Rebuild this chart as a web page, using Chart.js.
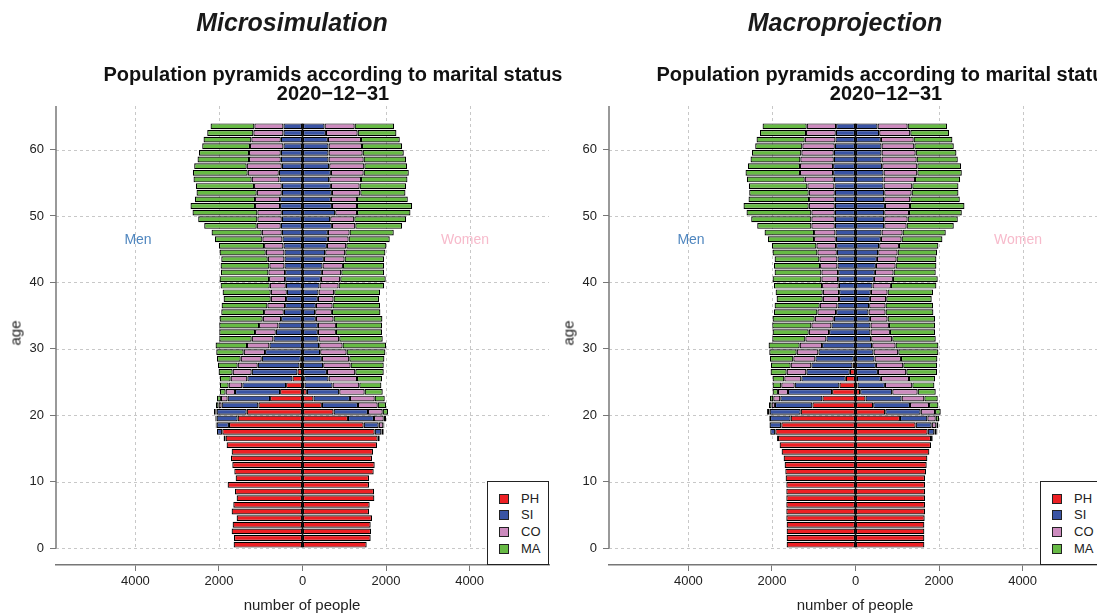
<!DOCTYPE html>
<html lang="en">
<head>
<meta charset="UTF-8">
<title>Population pyramids</title>
<script src="https://cdn.jsdelivr.net/npm/chart.js"></script>
<style>
    body { margin: 0; background: #fff; font-family: "Liberation Sans", Arial, sans-serif; }
    #wrap { position: relative; width: 1097px; height: 615px; overflow: hidden; }
    canvas { position: absolute; top: 0; }
    .txt { position: absolute; white-space: nowrap; transform: translate(-50%, -50%); color: #222; }
    .h1 { font-size: 25px; font-weight: bold; font-style: italic; color: #1a1a1a; }
    .sub { font-size: 20px; font-weight: bold; color: #111; }
    .axt { font-size: 15px; }
    .legend { position: absolute; width: 62px; height: 84px; border: 1px solid #222; background: #fff; box-sizing: border-box; }
    .legend .row { position: absolute; left: 11px; height: 14px; font-size: 13px; color: #222; }
    .legend .sw { position: absolute; left: 0; top: 2px; width: 10px; height: 10px; border: 1px solid #222; box-sizing: border-box; }
    .legend .lb { position: absolute; left: 22px; top: -1px; }
</style>
</head>
<body>
<div id="wrap">
    <canvas id="micro" width="552" height="615" style="left:0"></canvas>
    <canvas id="macro" width="552" height="615" style="left:553px"></canvas>
</div>
<script>
// ages 0..63, one bar each
const ages = Array.from({length: 64}, (_, i) => i);
const statuses = ['PH', 'SI', 'CO', 'MA'];
const statusColors = ['#ED2024', '#3A54A4', '#CC8BBE', '#67BA45'];
const yTicks = [0, 10, 20, 30, 40, 50, 60];
const xTicks = [-4000, -2000, 0, 2000, 4000];

// Microsimulation - men
const microMenPH = [1648,1640,1696,1672,1576,1696,1656,1576,1616,1792,
    1600,1632,1680,1712,1696,1816,1840,1920,1760,1552,
    1336,1056,776,536,392,240,120,72,40,0,
    0,0,0,0,0,0,0,0,0,0, 0,0,0,0,0,0,0,0,0,0, 0,0,0,0,0,0,0,0,0,0, 0,0,0,0];
const microMenSI = [0,0,0,0,0,0,0,0,0,0,
    0,0,0,0,0,0,48,128,296,504,
    720,880,1016,1080,1048,1080,1096,1000,936,896,
    792,696,640,576,512,448,416,392,376,400,
    416,416,432,432,432,456,480,496,520,496,
    496,536,536,496,496,552,568,496,520,520,
    456,520,456,456];
const microMenCO = [0,0,0,0,0,0,0,0,0,0,
    0,0,0,0,0,0,0,0,16,16,
    32,72,160,224,328,400,456,480,504,512,
    536,520,496,464,440,472,424,368,384,384,
    384,400,360,400,448,464,480,480,576,584,
    584,600,600,600,664,664,744,840,760,760,
    800,704,720,696];
const microMenMA = [0,0,0,0,0,0,0,0,0,0,
    0,0,0,0,0,0,0,0,8,16,
    32,64,96,136,208,256,336,472,568,656,
    752,776,856,952,1032,1024,1096,1128,1152,1176,
    1184,1136,1168,1112,1104,1080,1136,1200,1256,1416,
    1552,1544,1440,1440,1392,1392,1312,1256,1232,1200,
    1144,1144,1104,1048];
// Microsimulation - women
const microWomenPH = [1536,1632,1640,1632,1664,1592,1608,1720,1712,1592,
    1592,1704,1728,1664,1688,1784,1800,1728,1464,1088,
    744,464,264,104,48,40,0,0,0,0,
    0,0,0,0,0,0,0,0,0,0, 0,0,0,0,0,0,0,0,0,0, 0,0,0,0,0,0,0,0,0,0, 0,0,0,0];
const microWomenSI = [0,0,0,0,0,0,0,0,0,0,
    0,0,0,0,0,0,48,160,360,624,
    824,864,872,776,672,584,584,496,464,424,
    400,384,368,368,320,304,320,368,384,408,
    440,464,480,512,544,584,608,608,704,664,
    784,704,680,704,680,640,680,640,624,624,
    624,608,560,528];
const microWomenCO = [0,0,0,0,0,0,0,0,0,0,
    0,0,0,0,0,0,0,48,112,232,
    352,472,592,608,640,680,680,656,656,632,
    560,496,432,432,424,400,400,376,376,456,
    464,464,488,496,480,464,496,520,560,576,
    520,600,624,680,688,760,784,840,840,816,
    800,792,760,720];
const microWomenMA = [0,0,0,0,0,0,0,0,0,0,
    0,0,0,0,0,0,0,16,24,56,
    128,200,240,432,528,600,680,792,840,928,
    1040,1040,1104,1104,1168,1160,1136,1088,1096,1088,
    1088,1024,984,944,960,960,984,1056,1120,1240,
    1280,1320,1216,1080,1112,1112,1080,1024,1016,984,
    960,928,928,944];

// Macroprojection - men
const macroMenPH = [1648,1648,1648,1648,1656,1656,1656,1656,1656,1656,
    1672,1680,1696,1720,1768,1816,1856,1920,1776,1552,
    1312,1032,792,560,384,232,136,72,40,0,
    0,0,0,0,0,0,0,0,0,0, 0,0,0,0,0,0,0,0,0,0, 0,0,0,0,0,0,0,0,0,0, 0,0,0,0];
const macroMenSI = [0,0,0,0,0,0,0,0,0,0,
    0,0,0,0,0,0,24,120,280,496,
    744,896,1008,1056,1072,1064,1040,984,920,888,
    800,696,632,576,520,464,432,392,392,400,
    416,416,432,432,448,464,472,480,496,496,
    496,496,496,496,504,520,536,536,520,520,
    496,480,472,464];
const macroMenCO = [0,0,0,0,0,0,0,0,0,0,
    0,0,0,0,0,0,0,0,8,16,
    40,80,168,240,320,408,472,496,528,520,
    536,504,488,480,456,448,424,392,392,400,
    400,400,416,432,464,472,520,512,560,560,
    560,624,616,624,648,696,792,792,800,776,
    776,736,712,704];
const macroMenMA = [0,0,0,0,0,0,0,0,0,0,
    0,0,0,0,0,0,0,0,0,8,
    24,64,80,128,208,280,384,472,560,656,
    744,792,864,936,1008,1040,1080,1104,1128,1152,
    1168,1120,1104,1072,1072,1064,1104,1184,1296,1440,
    1552,1560,1448,1424,1400,1384,1304,1248,1192,1184,
    1128,1152,1104,1056];
// Macroprojection - women
const macroWomenPH = [1648,1648,1648,1648,1656,1664,1664,1664,1664,1664,
    1664,1688,1704,1720,1768,1808,1808,1728,1440,1064,
    712,424,240,112,48,32,0,0,0,0,
    0,0,0,0,0,0,0,0,0,0, 0,0,0,0,0,0,0,0,0,0, 0,0,0,0,0,0,0,0,0,0, 0,0,0,0];
const macroWomenSI = [0,0,0,0,0,0,0,0,0,0,
    0,0,0,0,0,0,32,160,384,656,
    848,880,864,768,656,576,536,488,456,432,
    400,376,360,360,344,312,328,344,368,408,
    440,464,488,512,544,568,608,624,688,688,
    688,704,688,688,672,672,672,640,624,624,
    624,608,568,528];
const macroWomenCO = [0,0,0,0,0,0,0,0,0,0,
    0,0,0,0,0,0,16,56,112,200,
    344,456,544,608,656,672,680,656,632,592,
    560,504,464,440,424,408,392,392,400,440,
    456,448,472,472,464,472,496,504,536,560,
    592,600,624,656,688,752,808,840,840,816,
    784,784,744,720];
const macroWomenMA = [0,0,0,0,0,0,0,0,0,0,
    0,0,0,0,0,0,0,16,48,80,
    136,224,320,432,528,624,736,808,872,960,
    1024,1040,1080,1104,1136,1144,1136,1088,1088,1088,
    1072,1008,976,952,944,944,976,1032,1128,1200,
    1264,1304,1184,1120,1104,1080,1064,1048,984,976,
    944,928,928,944];

const FONT = '"Liberation Sans", Arial, sans-serif';
const AXIS = '#777';

// dashed grid + y axis line (stops at age 0 like the original)
const gridPlugin = {
    id: 'rgrid',
    beforeDatasetsDraw(chart) {
        const {ctx, chartArea: a, scales: {x, y}} = chart;
        const y0 = y.getPixelForValue(0);
        ctx.save();
        ctx.strokeStyle = '#c8c8c8';
        ctx.lineWidth = 1;
        ctx.setLineDash([3, 3]);
        ctx.beginPath();
        yTicks.forEach(v => {
            const py = Math.round(y.getPixelForValue(v)) + 0.5;
            ctx.moveTo(a.left, py); ctx.lineTo(a.right, py);
        });
        xTicks.forEach(v => {
            if (v === 0) return;
            const px = Math.round(x.getPixelForValue(v)) + 0.5;
            ctx.moveTo(px, a.top); ctx.lineTo(px, y0);
        });
        ctx.stroke();
        ctx.setLineDash([]);
        ctx.strokeStyle = AXIS;
        ctx.lineWidth = 1.5;
        ctx.beginPath();
        ctx.moveTo(a.left, a.top); ctx.lineTo(a.left, y0 + 0.5);
        ctx.stroke();
        ctx.restore();
    },
    // dark divider between men and women
    afterDatasetsDraw(chart) {
        const {ctx, scales: {x, y}} = chart;
        const px = x.getPixelForValue(0);
        ctx.save();
        ctx.strokeStyle = '#111';
        ctx.lineWidth = 1.6;
        ctx.beginPath();
        ctx.moveTo(px, y.getPixelForValue(0.06));
        ctx.lineTo(px, y.getPixelForValue(ages.length - 0.06));
        ctx.stroke();
        ctx.restore();
    }
};

function makePyramid(id, men, women) {
    const datasets = [];
    statuses.forEach((s, k) => {
        datasets.push({
            label: 'Men ' + s,
            data: ages.map(a => ({x: men[k][a] ? -men[k][a] : null, y: a + 0.5})),
            backgroundColor: statusColors[k]
        });
    });
    statuses.forEach((s, k) => {
        datasets.push({
            label: 'Women ' + s,
            data: ages.map(a => ({x: women[k][a] || null, y: a + 0.5})),
            backgroundColor: statusColors[k]
        });
    });
    datasets.forEach(d => {
        d.borderColor = '#000';
        d.borderWidth = 1.2;
        d.borderSkipped = false;
        d.categoryPercentage = 1;
        d.barPercentage = 0.88;
    });

    return new Chart(document.getElementById(id), {
        type: 'bar',
        data: { datasets },
        plugins: [gridPlugin],
        options: {
            indexAxis: 'y',
            responsive: false,
            animation: false,
            layout: { padding: { top: 106, right: 3, left: 0, bottom: 0 } },
            plugins: { legend: { display: false }, tooltip: { enabled: false } },
            scales: {
                x: {
                    type: 'linear', stacked: true,
                    min: -5900, max: 5900,
                    afterBuildTicks: s => { s.ticks = xTicks.map(v => ({value: v})); },
                    afterFit: s => { s.height = 50; },
                    ticks: { color: '#222', font: { family: FONT, size: 13 }, padding: 3,
                        callback: v => String(Math.abs(v)) },
                    grid: { drawOnChartArea: false, tickLength: 6, tickColor: AXIS, tickWidth: 1 },
                    border: { display: true, color: AXIS, width: 1.5 }
                },
                y: {
                    type: 'linear', stacked: true,
                    offset: false,
                    min: -2.56, max: 66.56,
                    afterBuildTicks: s => { s.ticks = yTicks.map(v => ({value: v})); },
                    afterFit: s => { s.width = 56; },
                    ticks: { color: '#222', font: { family: FONT, size: 13 }, padding: 6 },
                    grid: { offset: false, drawOnChartArea: false, tickLength: 6, tickColor: AXIS, tickWidth: 1 },
                    border: { display: false }
                }
            }
        }
    });
}

makePyramid('micro',
    [microMenPH, microMenSI, microMenCO, microMenMA],
    [microWomenPH, microWomenSI, microWomenCO, microWomenMA]);
makePyramid('macro',
    [macroMenPH, macroMenSI, macroMenCO, macroMenMA],
    [macroWomenPH, macroWomenSI, macroWomenCO, macroWomenMA]);

// text around the plots
const wrap = document.getElementById('wrap');
function addText(str, x, y, cls, extra) {
    const d = document.createElement('div');
    d.className = 'txt ' + cls;
    d.textContent = str;
    d.style.left = x + 'px';
    d.style.top = y + 'px';
    if (extra) Object.assign(d.style, extra);
    wrap.appendChild(d);
}
function addLegend(off) {
    const box = document.createElement('div');
    box.className = 'legend';
    box.style.left = (off + 487) + 'px';
    box.style.top = '481px';
    [10, 26, 43, 60].forEach((top, k) => {
        const r = document.createElement('div');
        r.className = 'row';
        r.style.top = top + 'px';
        r.innerHTML = '<div class="sw" style="background:' + statusColors[k] + '"></div><div class="lb">' + statuses[k] + '</div>';
        box.appendChild(r);
    });
    wrap.appendChild(box);
}

[[0, 'Microsimulation'], [553, 'Macroprojection']].forEach(([off, name]) => {
    addText(name, off + 292, 22, 'h1');
    addText('Population pyramids according to marital status', off + 333, 74, 'sub');
    addText('2020\u221212\u221231', off + 333, 93, 'sub');
    addText('Men', off + 138, 239, 'axt', { color: '#4F86BF', fontSize: '14px' });
    addText('Women', off + 465, 239, 'axt', { color: '#F7BACB', fontSize: '14px' });
    addText('age', off + 15, 333, 'axt', { transform: 'translate(-50%, -50%) rotate(-90deg)' });
    addText('number of people', off + 302, 604, 'axt');
    addLegend(off);
});
</script>
</body>
</html>
